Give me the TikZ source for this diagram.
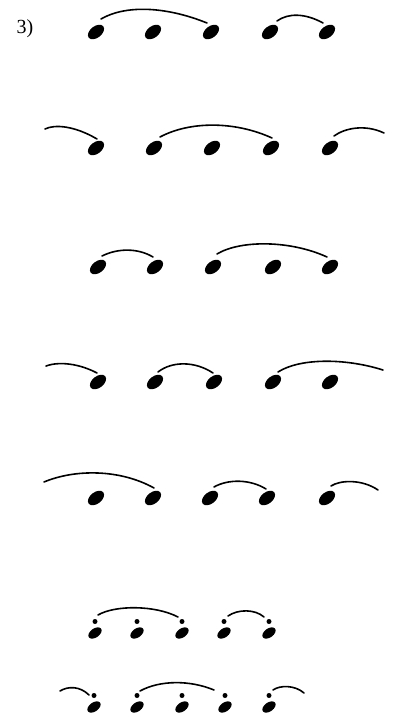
\documentclass[tikz,border=0pt]{standalone}
\usepackage{fontspec}
\setmainfont{Liberation Serif}
\usetikzlibrary{shapes.geometric}
\begin{document}
\begin{tikzpicture}[x=1pt,y=-1pt,
  dot/.style={ellipse,fill=black,inner sep=0pt,minimum width=18.5pt,minimum height=11.5pt,rotate=38},
  sdot/.style={ellipse,fill=black,inner sep=0pt,minimum width=15pt,minimum height=9pt,rotate=35},
  pt/.style={circle,fill=black,inner sep=0pt,minimum size=5pt},
  arc/.style={line width=1.6pt,line cap=round}]
\useasboundingbox (0,0) rectangle (393,723);
\node[font=\fontsize{20}{20}\selectfont,anchor=base] (lab) at (25,33) {3)};
% row 1
\foreach \n/\x in {1/96,2/153,3/211,4/270,5/327}{\node[dot] (a\n) at (\x,32) {};}
\draw[arc] (101,19) .. controls (125,5) and (165,6) .. (207,23);
\draw[arc] (277,21) .. controls (288,13) and (305,13) .. (323,23);
% row 2
\foreach \n/\x in {1/96,2/154,3/212,4/271,5/330}{\node[dot] (b\n) at (\x,148) {};}
\coordinate (b0) at (45,129);\coordinate (b6) at (384,133);
\draw[arc] (b0) .. controls (55,124) and (75,126) .. (97,139);
\draw[arc] (160,137) .. controls (190,121) and (235,121) .. (272,138);
\draw[arc] (334,136) .. controls (345,128) and (365,124) .. (b6);
% row 3
\foreach \n/\x in {1/98,2/155,3/213,4/273,5/330}{\node[dot] (c\n) at (\x,267) {};}
\draw[arc] (102,256) .. controls (118,248) and (138,248) .. (153,257);
\draw[arc] (217,254) .. controls (240,240) and (290,240) .. (327,257);
% row 4
\foreach \n/\x in {1/98,2/155,3/214,4/273,5/330}{\node[dot] (d\n) at (\x,382) {};}
\coordinate (d0) at (46,366);\coordinate (d6) at (383,370);
\draw[arc] (d0) .. controls (60,361) and (80,364) .. (97,373);
\draw[arc] (158,372) .. controls (172,361) and (195,361) .. (213,373);
\draw[arc] (278,372) .. controls (300,358) and (345,358) .. (d6);
% row 5
\foreach \n/\x in {1/96,2/153,3/210,4/267,5/327}{\node[dot] (e\n) at (\x,498) {};}
\coordinate (e0) at (44,482);\coordinate (e6) at (378,490);
\draw[arc] (e0) .. controls (75,469) and (120,469) .. (154,488);
\draw[arc] (214,487) .. controls (228,479) and (250,479) .. (266,489);
\draw[arc] (331,486) .. controls (340,480) and (362,479) .. (e6);
% row 6
\foreach \n/\x in {1/95,2/137,3/182,4/224,5/269}{\node[sdot] (f\n) at (\x,633) {};\node[pt] (g\n) at (\x,621.5) {};}
\draw[arc] (98,615) .. controls (115,605) and (155,605) .. (178,617);
\draw[arc] (228,616) .. controls (238,609) and (255,609) .. (264,617);
% row 7
\foreach \n/\x in {1/94,2/137,3/182,4/225,5/269}{\node[sdot] (h\n) at (\x,707) {};\node[pt] (i\n) at (\x,695.5) {};}
\coordinate (h0) at (60,691);\coordinate (h6) at (304,693);
\draw[arc] (h0) .. controls (68,686) and (80,686) .. (89,695);
\draw[arc] (140,691) .. controls (160,680) and (190,680) .. (214,690);
\draw[arc] (273,690) .. controls (280,685) and (295,685) .. (h6);
\end{tikzpicture}
\end{document}
